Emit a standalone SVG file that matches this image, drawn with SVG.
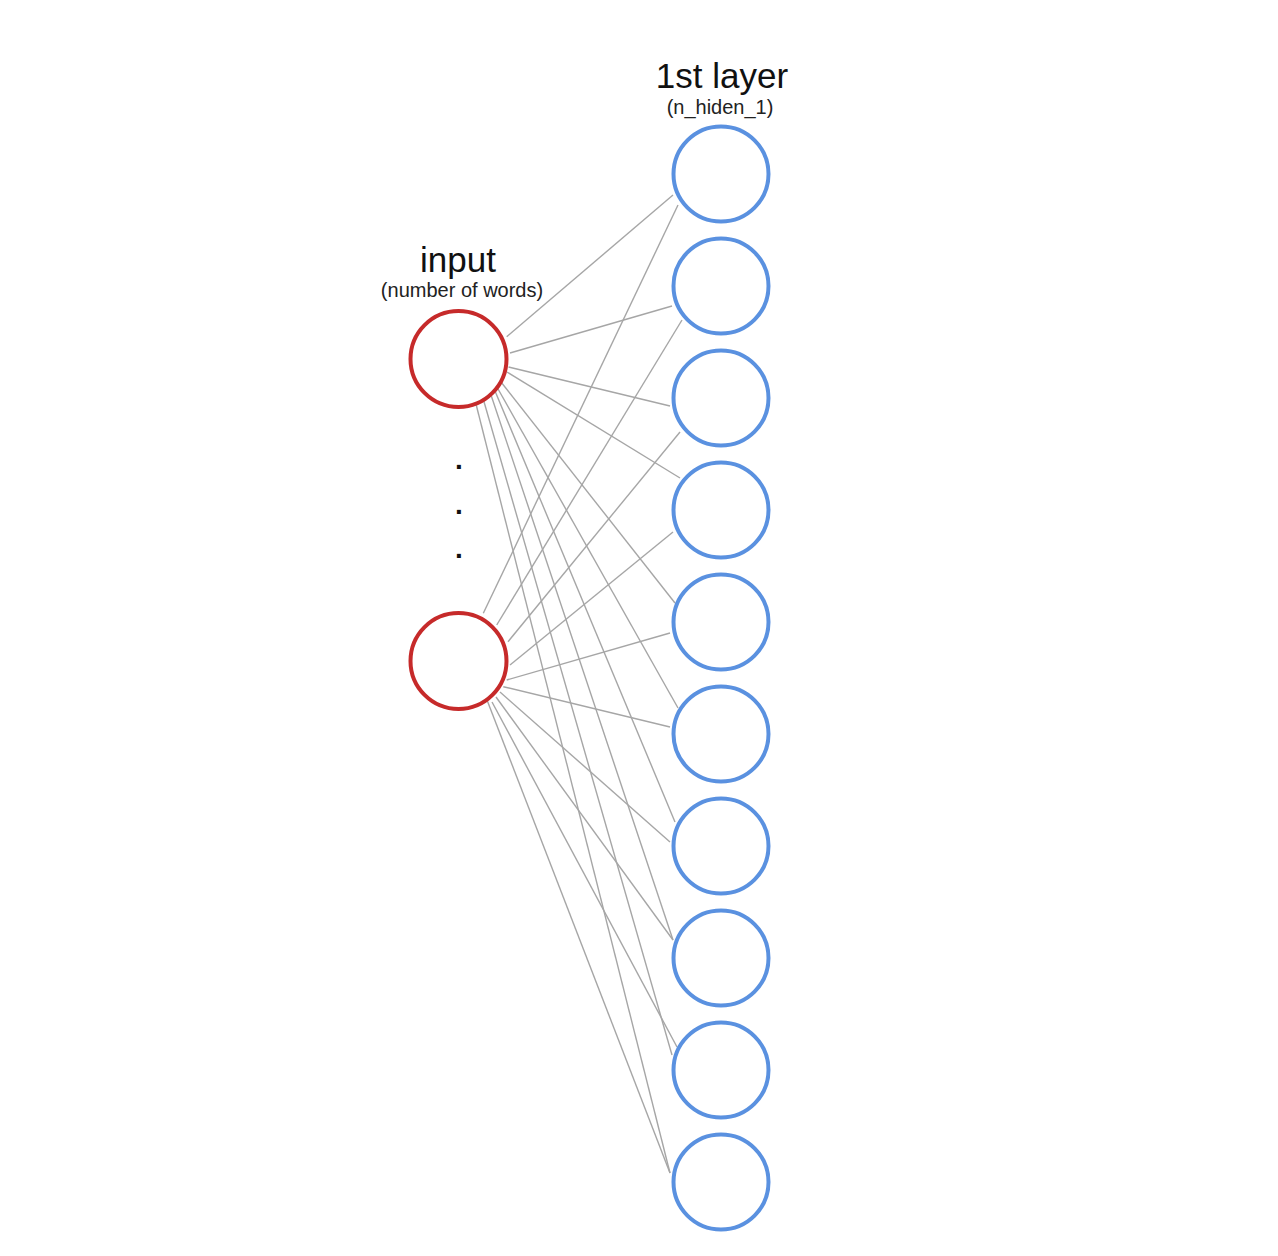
<svg xmlns="http://www.w3.org/2000/svg" width="1278" height="1256" viewBox="0 0 1278 1256">
<style>
.title{font-family:"Liberation Sans",Arial,sans-serif;font-size:35px;fill:#111;text-anchor:middle}
.sub{font-family:"Liberation Sans",Arial,sans-serif;font-size:20px;fill:#222;text-anchor:middle}
.dot{font-family:"Liberation Sans",Arial,sans-serif;font-size:28px;font-weight:bold;fill:#111;text-anchor:middle}
.edge{stroke:#a6a6a6;stroke-width:1.4;fill:none}
.in{fill:#fff;stroke:#c62a2a;stroke-width:4}
.hid{fill:#fff;stroke:#5a91e0;stroke-width:4}
</style>
<rect width="1278" height="1256" fill="#fff"/>
<g id="connectors">
<line class="edge" x1="506.7" y1="336.7" x2="673" y2="195"/>
<line class="edge" x1="510" y1="353" x2="672" y2="306"/>
<line class="edge" x1="508.5" y1="367" x2="670" y2="406"/>
<line class="edge" x1="507" y1="372" x2="680" y2="478"/>
<line class="edge" x1="501" y1="382" x2="675" y2="603"/>
<line class="edge" x1="497.5" y1="388" x2="678" y2="708"/>
<line class="edge" x1="495" y1="391" x2="675" y2="822"/>
<line class="edge" x1="491" y1="395" x2="673" y2="940"/>
<line class="edge" x1="483.5" y1="400" x2="672" y2="1055"/>
<line class="edge" x1="476" y1="404" x2="670" y2="1173"/>
<line class="edge" x1="483.3" y1="613.3" x2="678" y2="205"/>
<line class="edge" x1="496.7" y1="625" x2="682" y2="320"/>
<line class="edge" x1="508" y1="641.7" x2="680" y2="432"/>
<line class="edge" x1="510" y1="665" x2="673" y2="532"/>
<line class="edge" x1="506.7" y1="680" x2="670" y2="633"/>
<line class="edge" x1="503.3" y1="686.7" x2="670" y2="727"/>
<line class="edge" x1="500" y1="692" x2="670" y2="842"/>
<line class="edge" x1="496" y1="697" x2="673" y2="940"/>
<line class="edge" x1="492" y1="702" x2="677" y2="1047"/>
<line class="edge" x1="487" y1="700" x2="670" y2="1173"/>
</g>
<g id="label-input">
<text class="title" x="458" y="272">input</text>
<text class="sub" x="462" y="297">(number of words)</text>
</g>
<g id="label-layer1">
<text class="title" x="722" y="88">1st layer</text>
<text class="sub" x="720" y="114">(n_hiden_1)</text>
</g>
<g id="ellipsis">
<text class="dot" x="459" y="469">.</text>
<text class="dot" x="459" y="514">.</text>
<text class="dot" x="459" y="558">.</text>
</g>
<g id="input-1"><circle class="in" cx="458.5" cy="359" r="48"/></g>
<g id="input-n"><circle class="in" cx="458.5" cy="661" r="48"/></g>
<g id="h1"><circle class="hid" cx="721" cy="174" r="47.5"/></g>
<g id="h2"><circle class="hid" cx="721" cy="286" r="47.5"/></g>
<g id="h3"><circle class="hid" cx="721" cy="398" r="47.5"/></g>
<g id="h4"><circle class="hid" cx="721" cy="510" r="47.5"/></g>
<g id="h5"><circle class="hid" cx="721" cy="622" r="47.5"/></g>
<g id="h6"><circle class="hid" cx="721" cy="734" r="47.5"/></g>
<g id="h7"><circle class="hid" cx="721" cy="846" r="47.5"/></g>
<g id="h8"><circle class="hid" cx="721" cy="958" r="47.5"/></g>
<g id="h9"><circle class="hid" cx="721" cy="1070" r="47.5"/></g>
<g id="h10"><circle class="hid" cx="721" cy="1182" r="47.5"/></g>
</svg>
